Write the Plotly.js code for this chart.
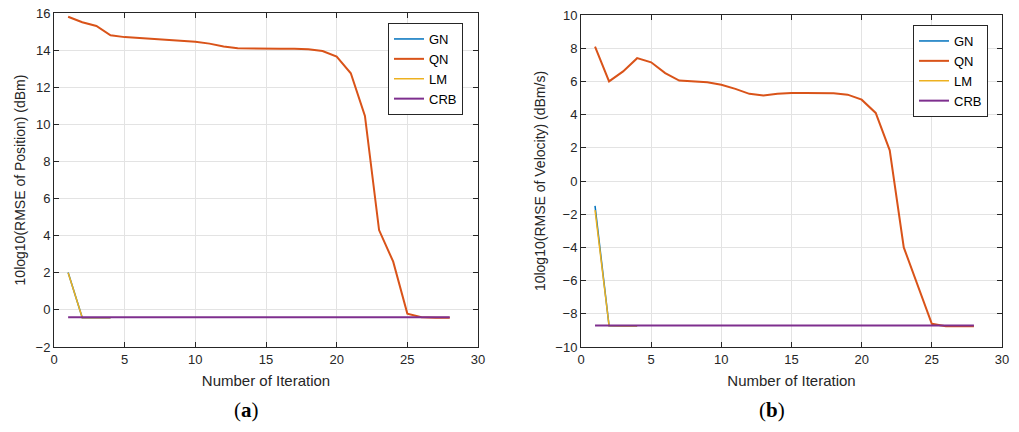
<!DOCTYPE html>
<html>
<head>
<meta charset="utf-8">
<script src="https://cdn.plot.ly/plotly-3.0.1.min.js"></script>
<style>html,body{margin:0;padding:0;background:#fff;}#chart{width:1019px;height:432px;}</style>
</head>
<body>
<div id="chart"></div>
<script>
// Iteration index
const iterQN = [1,2,3,4,5,6,7,8,9,10,11,12,13,14,15,16,17,18,19,20,21,22,23,24,25,26,27,28];
const iterShort = [1,2,3,4];

// (a) position error, dBm
const posGN = [2.02,-0.42,-0.43,-0.43];
const posQN = [15.8,15.5,15.3,14.8,14.7,14.65,14.6,14.55,14.52,14.45,14.35,14.2,14.1,14.08,14.08,14.08,14.07,14.05,13.95,13.65,12.75,10.45,4.3,2.6,-0.2,-0.4,-0.43,-0.43];
const posLM = [2.0,-0.42,-0.43,-0.43];
const posCRB = Array(28).fill(-0.4);

// (b) velocity error, dBm/s
const velGN = [-1.5,-8.72,-8.73,-8.73];
const velQN = [8.1,6.0,6.6,7.4,7.15,6.5,6.05,6.0,5.95,5.8,5.55,5.25,5.15,5.25,5.3,5.3,5.3,5.28,5.2,4.9,4.1,1.85,-4.0,-6.3,-8.6,-8.75,-8.75,-8.75];
const velLM = [-1.75,-8.72,-8.73,-8.73];
const velCRB = Array(28).fill(-8.7);

const names = ['GN','QN','LM','CRB'];
const colors = ['#0072BD','#D95319','#EDB120','#7E2F8E'];

function series(xs, ys, i, xa, ya, lg){
  return {x: xs, y: ys, type:'scatter', mode:'lines', name: names[i],
    line:{color: colors[i], width: i===0||i===2 ? 1.5 : 2},
    xaxis: xa, yaxis: ya, legend: lg, showlegend: true};
}

const traces = [
  series(iterShort, posGN, 0, 'x', 'y', 'legend'),
  series(iterQN, posQN, 1, 'x', 'y', 'legend'),
  series(iterShort, posLM, 2, 'x', 'y', 'legend'),
  series(iterQN, posCRB, 3, 'x', 'y', 'legend'),
  series(iterShort, velGN, 0, 'x2', 'y2', 'legend2'),
  series(iterQN, velQN, 1, 'x2', 'y2', 'legend2'),
  series(iterShort, velLM, 2, 'x2', 'y2', 'legend2'),
  series(iterQN, velCRB, 3, 'x2', 'y2', 'legend2')
];

const W = 1019, H = 432;
const font = {family:'Liberation Sans, Arial, sans-serif', size:12, color:'#262626'};

function xax(d){
  return {domain:d, range:[0,30], dtick:5, showgrid:true, gridcolor:'#e3e3e3',
    showline:true, mirror:'ticks', linecolor:'#262626', linewidth:1,
    ticks:'inside', ticklen:5, tickcolor:'#262626', zeroline:false,
    tickfont:{size:13, color:'#262626'},
    title:{text:'Number of Iteration', font:{size:15, color:'#262626'}, standoff:9}};
}
function yax(d, r, t, title, anchor){
  return {domain:d, range:r, dtick:t, anchor:anchor, showgrid:true, gridcolor:'#e3e3e3',
    showline:true, mirror:'ticks', linecolor:'#262626', linewidth:1,
    ticks:'inside', ticklen:5, tickcolor:'#262626', zeroline:false,
    tickfont:{size:13, color:'#262626'},
    title:{text:title, font:{size:14, color:'#262626'}, standoff:6}};
}
function leg(x0, y0){
  return {x:x0, y:y0, xanchor:'left', yanchor:'top', bgcolor:'#fff',
    bordercolor:'#262626', borderwidth:1, font:{size:13, color:'#000'},
    tracegroupgap:0, itemwidth:30};
}

const layout = {
  width:W, height:H, margin:{l:0,r:0,t:0,b:0},
  paper_bgcolor:'#fff', plot_bgcolor:'#fff', font:font, showlegend:true,
  xaxis: Object.assign(xax([54/W, 478/W]), {anchor:'y'}),
  yaxis: yax([85/H, 419/H], [-2,16], 2, '10log10(RMSE of Position) (dBm)', 'x'),
  xaxis2: Object.assign(xax([581/W, 1002/W]), {anchor:'y2'}),
  yaxis2: yax([85/H, 417/H], [-10,10], 2, '10log10(RMSE of Velocity) (dBm/s)', 'x2'),
  legend: leg(388/W, 1-23/H),
  legend2: leg(913/W, 1-25/H),
  annotations:[
    {text:'(<b>a</b>)', x:246/W, y:1-410/H, xref:'paper', yref:'paper', showarrow:false,
     xanchor:'center', yanchor:'middle',
     font:{family:'Liberation Serif, DejaVu Serif, serif', size:21, color:'#000'}},
    {text:'(<b>b</b>)', x:772/W, y:1-410/H, xref:'paper', yref:'paper', showarrow:false,
     xanchor:'center', yanchor:'middle',
     font:{family:'Liberation Serif, DejaVu Serif, serif', size:21, color:'#000'}}
  ]
};

Plotly.newPlot('chart', traces, layout, {staticPlot:true, displayModeBar:false});
</script>
</body>
</html>
